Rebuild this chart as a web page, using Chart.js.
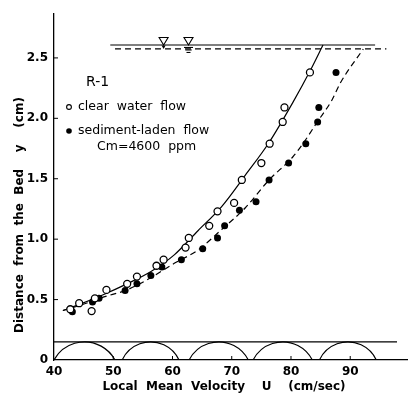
<!DOCTYPE html>
<html lang="en">
<head>
<meta charset="utf-8" />
<script src="https://cdn.jsdelivr.net/npm/chart.js"></script>
<title>R-1 velocity profile</title>
<style>
  html, body { margin: 0; padding: 0; background: #fff; }
  #wrap { width: 413px; height: 396px; }
</style>
</head>
<body>
<div id="wrap"><canvas id="myChart"></canvas></div>
<script>
// clear water flow, open circles (U cm/sec, y cm)
var clearU = [42.75, 44.25, 46.35, 46.9, 48.85, 52.35, 54.0, 57.3, 58.5, 62.2, 62.75, 66.2, 67.6, 70.4, 71.7, 75.0, 76.4, 78.6, 78.9, 83.2];
var clearY = [0.42, 0.47, 0.405, 0.51, 0.58, 0.63, 0.69, 0.78, 0.83, 0.93, 1.01, 1.11, 1.23, 1.30, 1.49, 1.63, 1.79, 1.97, 2.09, 2.38];

// sediment-laden flow, filled circles
var sedU = [43.1, 46.5, 47.6, 52.0, 54.0, 56.35, 58.2, 61.5, 65.1, 67.6, 68.8, 71.3, 74.1, 76.3, 79.6, 82.5, 84.5, 84.7, 87.6];
var sedY = [0.40, 0.48, 0.51, 0.575, 0.63, 0.70, 0.77, 0.83, 0.92, 1.01, 1.11, 1.24, 1.31, 1.49, 1.63, 1.79, 1.97, 2.09, 2.38];

// fitted curves
var clearCurveU = [41.5, 44.3, 48.3, 52.3, 56.3, 60.3, 64.3, 68.3, 72.3, 76.3, 80.3, 83.3, 85.4];
var clearCurveY = [0.41, 0.46, 0.54, 0.63, 0.73, 0.87, 1.07, 1.27, 1.53, 1.80, 2.13, 2.40, 2.607];
var sedCurveU = [41.5, 44.3, 48.3, 52.3, 56.3, 60.3, 64.3, 68.3, 72.3, 76.3, 80.3, 82.3, 84.3, 86.9, 88.3, 92.2];
var sedCurveY = [0.41, 0.45, 0.52, 0.58, 0.68, 0.80, 0.91, 1.08, 1.26, 1.49, 1.68, 1.81, 1.96, 2.15, 2.29, 2.574];

// water surfaces
var surfClearU = [49.5, 94.2];
var surfClearY = 2.607;
var surfSedU = [50.3, 96.1];
var surfSedY = 2.574;
var surfMarkU = [58.5, 62.7];

// bed: ripple crests line and ripple spans
var bedTop = 0.15;
var bedLineU = [40, 97.9];
var rippleStart = [40.0, 51.5, 62.8, 73.6, 84.8];
var rippleEnd = [50.3, 61.1, 72.8, 83.6, 94.4];

var xTicks = [40, 50, 60, 70, 80, 90];
var yTicks = [0, 0.5, 1.0, 1.5, 2.0, 2.5];

var runName = 'R-1';
var legendLabels = ['clear  water  flow', 'sediment-laden  flow', 'Cm=4600  ppm'];
var xTitle = 'Local  Mean  Velocity    U    (cm/sec)';
var yTitle = 'Distance  from  the  Bed    y    (cm)';

function pts(us, ys) {
  return us.map(function (u, i) { return { x: u, y: Array.isArray(ys) ? ys[i] : ys }; });
}

var decor = {
  id: 'decor',
  beforeDatasetsDraw: function (chart) {
    var ctx = chart.ctx, xs = chart.scales.x, ys = chart.scales.y, a = chart.chartArea;
    ctx.save();
    ctx.strokeStyle = '#000';
    ctx.fillStyle = '#000';
    ctx.lineWidth = 1.2;

    // bed line
    var yb = ys.getPixelForValue(bedTop);
    ctx.beginPath();
    ctx.moveTo(xs.getPixelForValue(bedLineU[0]), yb);
    ctx.lineTo(xs.getPixelForValue(bedLineU[1]), yb);
    ctx.stroke();

    // ripples as circular segments sitting on the axis
    ctx.save();
    ctx.beginPath();
    ctx.rect(a.left, a.top, a.right - a.left, a.bottom - a.top);
    ctx.clip();
    var base = ys.getPixelForValue(0), h = base - yb;
    rippleStart.forEach(function (s, i) {
      var x0 = xs.getPixelForValue(s), x1 = xs.getPixelForValue(rippleEnd[i]);
      var c = (x1 - x0) / 2, r = (c * c + h * h) / (2 * h);
      var cy = base - h + r, ang = Math.asin(c / r);
      ctx.beginPath();
      ctx.moveTo(x0, base);
      ctx.arc((x0 + x1) / 2, cy, r, -Math.PI / 2 - ang, -Math.PI / 2 + ang, false);
      ctx.stroke();
    });
    ctx.restore();

    // inward ticks
    ctx.lineWidth = 1;
    yTicks.forEach(function (v) {
      if (v === 0) return;
      var p = ys.getPixelForValue(v);
      ctx.beginPath(); ctx.moveTo(a.left, p); ctx.lineTo(a.left + 4, p); ctx.stroke();
    });
    xTicks.forEach(function (v) {
      if (v === 40) return;
      var p = xs.getPixelForValue(v);
      ctx.beginPath(); ctx.moveTo(p, a.bottom); ctx.lineTo(p, a.bottom - 4); ctx.stroke();
    });

    // water surface symbols
    var ysC = ys.getPixelForValue(surfClearY), ysS = ys.getPixelForValue(surfSedY);
    var m0 = xs.getPixelForValue(surfMarkU[0]), m1 = xs.getPixelForValue(surfMarkU[1]);
    ctx.lineWidth = 1.1;
    [m0, m1].forEach(function (m) {
      ctx.beginPath();
      ctx.moveTo(m - 4.5, ysC - 7.5);
      ctx.lineTo(m + 4.5, ysC - 7.5);
      ctx.lineTo(m, ysC);
      ctx.closePath();
      ctx.fillStyle = '#fff'; ctx.fill();
      ctx.stroke();
    });
    ctx.fillStyle = '#000';
    ctx.beginPath();
    ctx.moveTo(m0 - 2, ysC + 0.5); ctx.lineTo(m0 + 2, ysC + 0.5); ctx.lineTo(m0, ysC + 4); ctx.closePath();
    ctx.fill();
    [[ysS - 1.5, 4.5], [ysS + 1, 3.2], [ysS + 3.5, 2]].forEach(function (l) {
      ctx.beginPath(); ctx.moveTo(m1 - l[1], l[0]); ctx.lineTo(m1 + l[1], l[0]); ctx.stroke();
    });

    // legend
    ctx.textBaseline = 'middle';
    ctx.textAlign = 'left';
    ctx.font = '14px "DejaVu Sans"';
    ctx.fillText(runName, 86, 82);
    ctx.font = '12.5px "DejaVu Sans"';
    ctx.fillText(legendLabels[0], 78, 107);
    ctx.fillText(legendLabels[1], 78, 131);
    ctx.fillText(legendLabels[2], 97, 147);
    ctx.beginPath(); ctx.arc(69, 107, 2.4, 0, Math.PI * 2); ctx.lineWidth = 1.1; ctx.stroke();
    ctx.beginPath(); ctx.arc(69, 131, 2.8, 0, Math.PI * 2); ctx.fill();

    // axis titles
    ctx.font = 'bold 12px "DejaVu Sans"';
    ctx.textAlign = 'center';
    ctx.fillText(xTitle, 224, 387);
    ctx.save();
    ctx.translate(20, 215);
    ctx.rotate(-Math.PI / 2);
    ctx.fillText(yTitle, 0, 0);
    ctx.restore();

    ctx.restore();
  }
};

var ctx = document.getElementById('myChart').getContext('2d');
var myChart = new Chart(ctx, {
  type: 'scatter',
  data: {
    datasets: [
      { data: pts(clearU, clearY), pointRadius: 3.5, pointBorderWidth: 1.3, pointBackgroundColor: '#fff', pointBorderColor: '#000', showLine: false },
      { data: pts(sedU, sedY), pointRadius: 3.5, pointBorderWidth: 0, pointBackgroundColor: '#000', pointBorderColor: '#000', showLine: false },
      { data: pts(clearCurveU, clearCurveY), showLine: true, pointRadius: 0, borderColor: '#000', borderWidth: 1.2, tension: 0.4, cubicInterpolationMode: 'monotone' },
      { data: pts(sedCurveU, sedCurveY), showLine: true, pointRadius: 0, borderColor: '#000', borderWidth: 1.2, borderDash: [6, 4], tension: 0.4, cubicInterpolationMode: 'monotone' },
      { data: pts(surfClearU, surfClearY), showLine: true, pointRadius: 0, borderColor: '#000', borderWidth: 1.2 },
      { data: pts(surfSedU, surfSedY), showLine: true, pointRadius: 0, borderColor: '#000', borderWidth: 1.2, borderDash: [6, 4] }
    ]
  },
  options: {
    responsive: true,
    maintainAspectRatio: false,
    animation: false,
    devicePixelRatio: 1,
    layout: { padding: { top: 12, right: 0, left: 0, bottom: 0 } },
    plugins: { legend: { display: false }, tooltip: { enabled: false } },
    scales: {
      x: {
        type: 'linear',
        min: 40,
        max: 99.7,
        afterFit: function (s) { s.height = 36; },
        afterBuildTicks: function (s) { s.ticks = xTicks.map(function (v) { return { value: v }; }); },
        grid: { display: false, drawTicks: false },
        border: { display: true, color: '#000', width: 1.3 },
        ticks: { padding: 5, color: '#000', font: { family: 'DejaVu Sans', weight: 'bold', size: 12 }, maxRotation: 0 }
      },
      y: {
        type: 'linear',
        min: 0,
        max: 2.87,
        afterFit: function (s) { s.width = 54; },
        afterBuildTicks: function (s) { s.ticks = yTicks.map(function (v) { return { value: v }; }); },
        grid: { display: false, drawTicks: false },
        border: { display: true, color: '#000', width: 1.3 },
        ticks: {
          padding: 6, color: '#000', font: { family: 'DejaVu Sans', weight: 'bold', size: 12 },
          callback: function (v) { return v === 0 ? '0' : v.toFixed(1); }
        }
      }
    }
  },
  plugins: [decor]
});
</script>
</body>
</html>
